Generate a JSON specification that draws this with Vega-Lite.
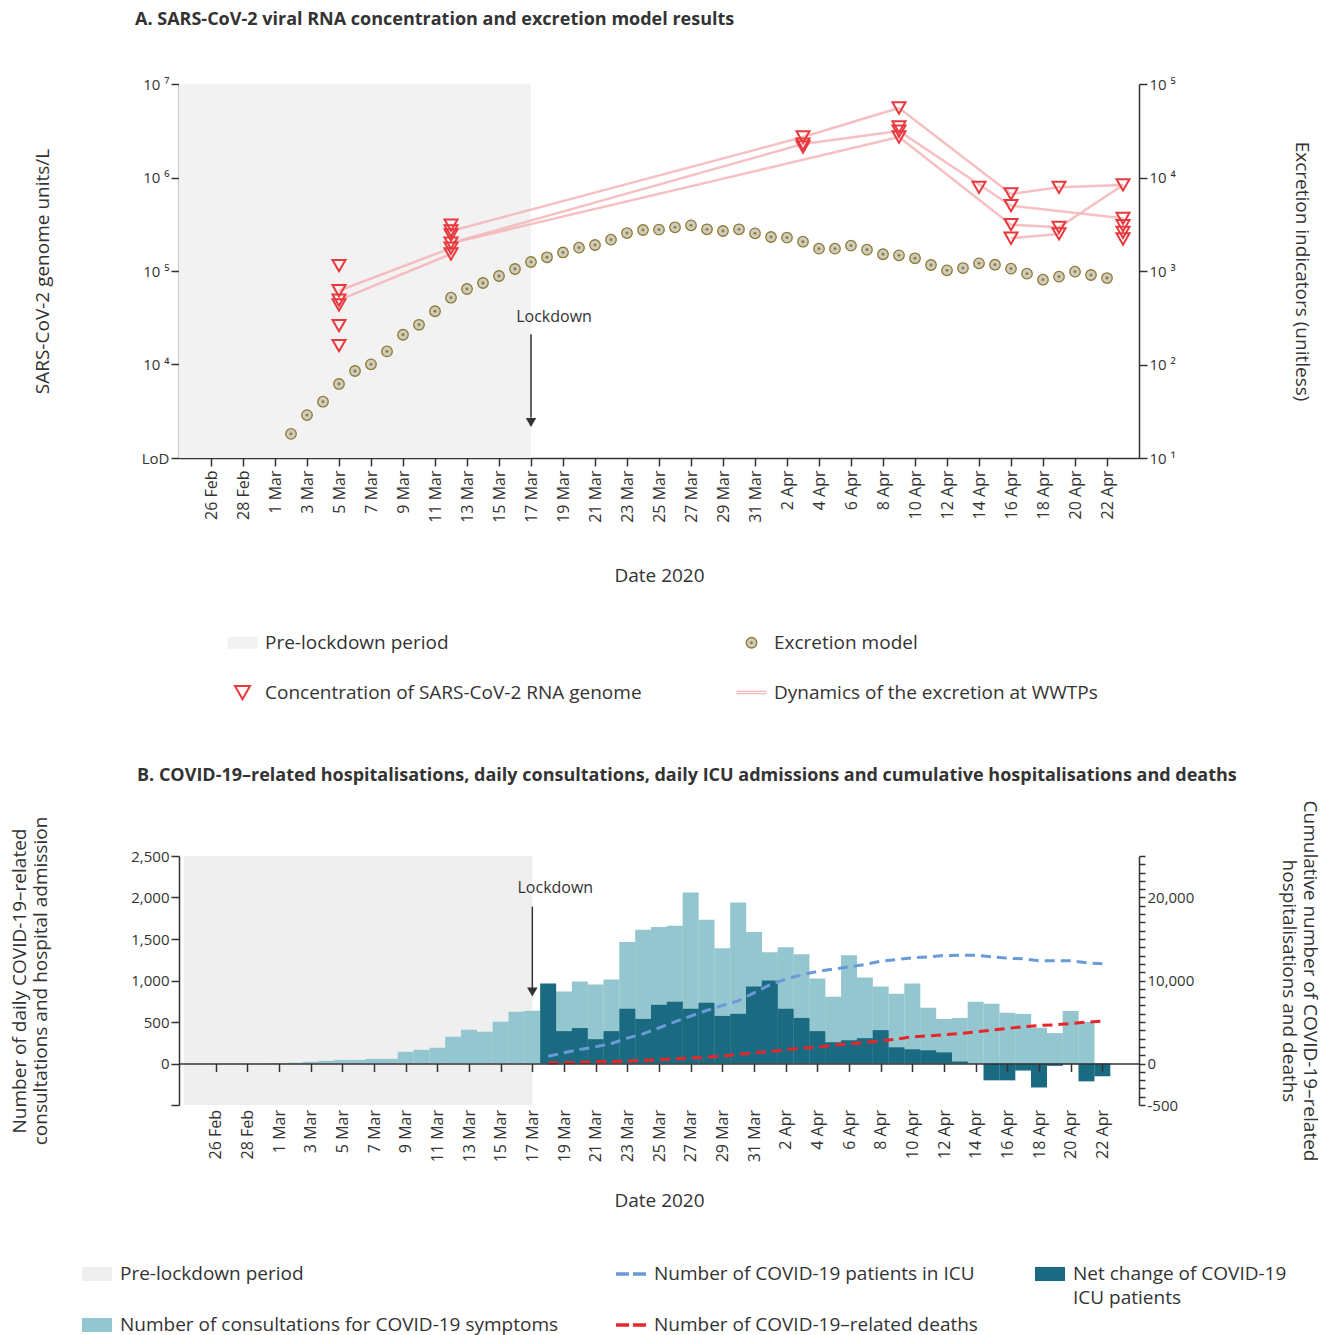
{
  "$schema": "https://vega.github.io/schema/vega-lite/v6.json",
  "background": "white",
  "padding": {"left": 10, "right": 6, "top": 11, "bottom": 2},
  "config": {
    "font": "Open Sans",
    "view": {"stroke": null},
    "axis": {"domainColor": "#333", "tickColor": "#333", "domainWidth": 1.5, "tickWidth": 1.5, "labelColor": "#333", "titleColor": "#333", "labelFontSize": 15, "titleFontSize": 19, "titleFontWeight": "normal", "grid": false, "tickSize": 8, "labelFont": "Open Sans", "titleFont": "Open Sans"},
    "legend": {"labelFont": "Open Sans", "labelColor": "#333"}
  },
  "spacing": 63,
  "resolve": {"scale": {"color": "independent"}, "legend": {"color": "independent"}},
  "datasets": {
    "excr": [
      {"date": "2020-03-02", "excretion": 18.1}, {"date": "2020-03-03", "excretion": 28.8}, {"date": "2020-03-04", "excretion": 40.0},
      {"date": "2020-03-05", "excretion": 61.9}, {"date": "2020-03-06", "excretion": 85.2}, {"date": "2020-03-07", "excretion": 100.5},
      {"date": "2020-03-08", "excretion": 138}, {"date": "2020-03-09", "excretion": 208}, {"date": "2020-03-10", "excretion": 266},
      {"date": "2020-03-11", "excretion": 371}, {"date": "2020-03-12", "excretion": 518}, {"date": "2020-03-13", "excretion": 642},
      {"date": "2020-03-14", "excretion": 744}, {"date": "2020-03-15", "excretion": 884}, {"date": "2020-03-16", "excretion": 1050},
      {"date": "2020-03-17", "excretion": 1248}, {"date": "2020-03-18", "excretion": 1402}, {"date": "2020-03-19", "excretion": 1578},
      {"date": "2020-03-20", "excretion": 1775}, {"date": "2020-03-21", "excretion": 1897}, {"date": "2020-03-22", "excretion": 2163},
      {"date": "2020-03-23", "excretion": 2547}, {"date": "2020-03-24", "excretion": 2746}, {"date": "2020-03-25", "excretion": 2767},
      {"date": "2020-03-26", "excretion": 2934}, {"date": "2020-03-27", "excretion": 3080}, {"date": "2020-03-28", "excretion": 2793},
      {"date": "2020-03-29", "excretion": 2679}, {"date": "2020-03-30", "excretion": 2793}, {"date": "2020-03-31", "excretion": 2529},
      {"date": "2020-04-01", "excretion": 2311}, {"date": "2020-04-02", "excretion": 2271}, {"date": "2020-04-03", "excretion": 2057},
      {"date": "2020-04-04", "excretion": 1734}, {"date": "2020-04-05", "excretion": 1734}, {"date": "2020-04-06", "excretion": 1866},
      {"date": "2020-04-07", "excretion": 1690}, {"date": "2020-04-08", "excretion": 1510}, {"date": "2020-04-09", "excretion": 1472},
      {"date": "2020-04-10", "excretion": 1368}, {"date": "2020-04-11", "excretion": 1159}, {"date": "2020-04-12", "excretion": 1016},
      {"date": "2020-04-13", "excretion": 1076}, {"date": "2020-04-14", "excretion": 1208}, {"date": "2020-04-15", "excretion": 1167},
      {"date": "2020-04-16", "excretion": 1059}, {"date": "2020-04-17", "excretion": 936}, {"date": "2020-04-18", "excretion": 807},
      {"date": "2020-04-19", "excretion": 869}, {"date": "2020-04-20", "excretion": 984}, {"date": "2020-04-21", "excretion": 906},
      {"date": "2020-04-22", "excretion": 841}
    ],
    "conc": [
      {"date": "2020-03-05", "value": 114000}, {"date": "2020-03-05", "value": 61500}, {"date": "2020-03-05", "value": 48900},
      {"date": "2020-03-05", "value": 43300}, {"date": "2020-03-05", "value": 26000}, {"date": "2020-03-05", "value": 15900},
      {"date": "2020-03-12", "value": 310000}, {"date": "2020-03-12", "value": 268000}, {"date": "2020-03-12", "value": 243000},
      {"date": "2020-03-12", "value": 199000}, {"date": "2020-03-12", "value": 176000}, {"date": "2020-03-12", "value": 152000},
      {"date": "2020-04-03", "value": 2710000}, {"date": "2020-04-03", "value": 2280000}, {"date": "2020-04-03", "value": 2120000},
      {"date": "2020-04-09", "value": 5540000}, {"date": "2020-04-09", "value": 3470000}, {"date": "2020-04-09", "value": 3140000},
      {"date": "2020-04-09", "value": 2710000},
      {"date": "2020-04-14", "value": 785000},
      {"date": "2020-04-16", "value": 667000}, {"date": "2020-04-16", "value": 499000}, {"date": "2020-04-16", "value": 313000},
      {"date": "2020-04-16", "value": 224000},
      {"date": "2020-04-19", "value": 785000}, {"date": "2020-04-19", "value": 293000}, {"date": "2020-04-19", "value": 249000},
      {"date": "2020-04-23", "value": 832000}, {"date": "2020-04-23", "value": 366000}, {"date": "2020-04-23", "value": 305000},
      {"date": "2020-04-23", "value": 259000}, {"date": "2020-04-23", "value": 220000}
    ],
    "dyn": [
      {"seg": "s1", "date": "2020-03-05", "value": 61500}, {"seg": "s1", "date": "2020-03-12", "value": 176000},
      {"seg": "s2", "date": "2020-03-05", "value": 48900}, {"seg": "s2", "date": "2020-03-12", "value": 152000},
      {"seg": "s3", "date": "2020-03-12", "value": 268000}, {"seg": "s3", "date": "2020-04-03", "value": 2710000},
      {"seg": "s4", "date": "2020-03-12", "value": 199000}, {"seg": "s4", "date": "2020-04-03", "value": 2280000},
      {"seg": "s5", "date": "2020-03-12", "value": 199000}, {"seg": "s5", "date": "2020-04-09", "value": 2710000},
      {"seg": "s6", "date": "2020-04-03", "value": 2710000}, {"seg": "s6", "date": "2020-04-09", "value": 5540000},
      {"seg": "s7", "date": "2020-04-03", "value": 2280000}, {"seg": "s7", "date": "2020-04-09", "value": 3140000},
      {"seg": "s8", "date": "2020-04-09", "value": 5540000}, {"seg": "s8", "date": "2020-04-16", "value": 667000},
      {"seg": "s9", "date": "2020-04-09", "value": 2710000}, {"seg": "s9", "date": "2020-04-16", "value": 313000},
      {"seg": "s10", "date": "2020-04-09", "value": 3140000}, {"seg": "s10", "date": "2020-04-16", "value": 499000},
      {"seg": "s11", "date": "2020-04-16", "value": 667000}, {"seg": "s11", "date": "2020-04-19", "value": 785000},
      {"seg": "s12", "date": "2020-04-16", "value": 499000}, {"seg": "s12", "date": "2020-04-23", "value": 366000},
      {"seg": "s13", "date": "2020-04-16", "value": 313000}, {"seg": "s13", "date": "2020-04-19", "value": 293000},
      {"seg": "s14", "date": "2020-04-16", "value": 224000}, {"seg": "s14", "date": "2020-04-19", "value": 249000},
      {"seg": "s15", "date": "2020-04-19", "value": 785000}, {"seg": "s15", "date": "2020-04-23", "value": 832000},
      {"seg": "s16", "date": "2020-04-19", "value": 293000}, {"seg": "s16", "date": "2020-04-23", "value": 832000}
    ],
    "cons": [
      {"date": "2020-02-26", "n": 2}, {"date": "2020-02-27", "n": 2}, {"date": "2020-02-28", "n": 3}, {"date": "2020-02-29", "n": 3},
      {"date": "2020-03-01", "n": 5}, {"date": "2020-03-02", "n": 10}, {"date": "2020-03-03", "n": 20}, {"date": "2020-03-04", "n": 32},
      {"date": "2020-03-05", "n": 44}, {"date": "2020-03-06", "n": 44}, {"date": "2020-03-07", "n": 56}, {"date": "2020-03-08", "n": 56},
      {"date": "2020-03-09", "n": 141}, {"date": "2020-03-10", "n": 165}, {"date": "2020-03-11", "n": 190}, {"date": "2020-03-12", "n": 323},
      {"date": "2020-03-13", "n": 407}, {"date": "2020-03-14", "n": 383}, {"date": "2020-03-15", "n": 504}, {"date": "2020-03-16", "n": 625},
      {"date": "2020-03-17", "n": 637}, {"date": "2020-03-18", "n": 780}, {"date": "2020-03-19", "n": 866}, {"date": "2020-03-20", "n": 988},
      {"date": "2020-03-21", "n": 951}, {"date": "2020-03-22", "n": 1012}, {"date": "2020-03-23", "n": 1463}, {"date": "2020-03-24", "n": 1610},
      {"date": "2020-03-25", "n": 1646}, {"date": "2020-03-26", "n": 1659}, {"date": "2020-03-27", "n": 2061}, {"date": "2020-03-28", "n": 1732},
      {"date": "2020-03-29", "n": 1390}, {"date": "2020-03-30", "n": 1939}, {"date": "2020-03-31", "n": 1585}, {"date": "2020-04-01", "n": 1341},
      {"date": "2020-04-02", "n": 1402}, {"date": "2020-04-03", "n": 1317}, {"date": "2020-04-04", "n": 1024}, {"date": "2020-04-05", "n": 805},
      {"date": "2020-04-06", "n": 1305}, {"date": "2020-04-07", "n": 1037}, {"date": "2020-04-08", "n": 927}, {"date": "2020-04-09", "n": 841},
      {"date": "2020-04-10", "n": 963}, {"date": "2020-04-11", "n": 671}, {"date": "2020-04-12", "n": 537}, {"date": "2020-04-13", "n": 549},
      {"date": "2020-04-14", "n": 744}, {"date": "2020-04-15", "n": 720}, {"date": "2020-04-16", "n": 610}, {"date": "2020-04-17", "n": 598},
      {"date": "2020-04-18", "n": 431}, {"date": "2020-04-19", "n": 366}, {"date": "2020-04-20", "n": 634}, {"date": "2020-04-21", "n": 500}
    ],
    "icuchg": [
      {"date": "2020-03-18", "n": 963}, {"date": "2020-03-19", "n": 390}, {"date": "2020-03-20", "n": 427}, {"date": "2020-03-21", "n": 293},
      {"date": "2020-03-22", "n": 390}, {"date": "2020-03-23", "n": 659}, {"date": "2020-03-24", "n": 537}, {"date": "2020-03-25", "n": 707},
      {"date": "2020-03-26", "n": 744}, {"date": "2020-03-27", "n": 659}, {"date": "2020-03-28", "n": 732}, {"date": "2020-03-29", "n": 573},
      {"date": "2020-03-30", "n": 598}, {"date": "2020-03-31", "n": 927}, {"date": "2020-04-01", "n": 1000}, {"date": "2020-04-02", "n": 659},
      {"date": "2020-04-03", "n": 549}, {"date": "2020-04-04", "n": 390}, {"date": "2020-04-05", "n": 256}, {"date": "2020-04-06", "n": 280},
      {"date": "2020-04-07", "n": 305}, {"date": "2020-04-08", "n": 402}, {"date": "2020-04-09", "n": 195}, {"date": "2020-04-10", "n": 171},
      {"date": "2020-04-11", "n": 159}, {"date": "2020-04-12", "n": 134}, {"date": "2020-04-13", "n": 24}, {"date": "2020-04-14", "n": -3},
      {"date": "2020-04-15", "n": -203}, {"date": "2020-04-16", "n": -203}, {"date": "2020-04-17", "n": -85}, {"date": "2020-04-18", "n": -289},
      {"date": "2020-04-19", "n": -28}, {"date": "2020-04-20", "n": -8}, {"date": "2020-04-21", "n": -215}, {"date": "2020-04-22", "n": -154}
    ],
    "icu": [
      {"date": "2020-03-18", "v": 880}, {"date": "2020-03-19", "v": 1285}, {"date": "2020-03-20", "v": 1687}, {"date": "2020-03-21", "v": 2008},
      {"date": "2020-03-22", "v": 2410}, {"date": "2020-03-23", "v": 3052}, {"date": "2020-03-24", "v": 3574}, {"date": "2020-03-25", "v": 4297},
      {"date": "2020-03-26", "v": 5020}, {"date": "2020-03-27", "v": 5703}, {"date": "2020-03-28", "v": 6386}, {"date": "2020-03-29", "v": 6988},
      {"date": "2020-03-30", "v": 7550}, {"date": "2020-03-31", "v": 8514}, {"date": "2020-04-01", "v": 9478}, {"date": "2020-04-02", "v": 10160},
      {"date": "2020-04-03", "v": 10683}, {"date": "2020-04-04", "v": 11084}, {"date": "2020-04-05", "v": 11365}, {"date": "2020-04-06", "v": 11647},
      {"date": "2020-04-07", "v": 11928}, {"date": "2020-04-08", "v": 12329}, {"date": "2020-04-09", "v": 12530}, {"date": "2020-04-10", "v": 12731},
      {"date": "2020-04-11", "v": 12851}, {"date": "2020-04-12", "v": 13012}, {"date": "2020-04-13", "v": 13052}, {"date": "2020-04-14", "v": 13052},
      {"date": "2020-04-15", "v": 12851}, {"date": "2020-04-16", "v": 12691}, {"date": "2020-04-17", "v": 12610}, {"date": "2020-04-18", "v": 12369},
      {"date": "2020-04-19", "v": 12369}, {"date": "2020-04-20", "v": 12369}, {"date": "2020-04-21", "v": 12128}, {"date": "2020-04-22", "v": 12008}
    ],
    "deaths": [
      {"date": "2020-03-18", "v": 50}, {"date": "2020-03-19", "v": 100}, {"date": "2020-03-20", "v": 150}, {"date": "2020-03-21", "v": 200},
      {"date": "2020-03-22", "v": 250}, {"date": "2020-03-23", "v": 300}, {"date": "2020-03-24", "v": 400}, {"date": "2020-03-25", "v": 480},
      {"date": "2020-03-26", "v": 560}, {"date": "2020-03-27", "v": 680}, {"date": "2020-03-28", "v": 760}, {"date": "2020-03-29", "v": 920},
      {"date": "2020-03-30", "v": 1080}, {"date": "2020-03-31", "v": 1280}, {"date": "2020-04-01", "v": 1450}, {"date": "2020-04-02", "v": 1650},
      {"date": "2020-04-03", "v": 1850}, {"date": "2020-04-04", "v": 2000}, {"date": "2020-04-05", "v": 2200}, {"date": "2020-04-06", "v": 2350},
      {"date": "2020-04-07", "v": 2530}, {"date": "2020-04-08", "v": 2730}, {"date": "2020-04-09", "v": 2930}, {"date": "2020-04-10", "v": 3210},
      {"date": "2020-04-11", "v": 3330}, {"date": "2020-04-12", "v": 3450}, {"date": "2020-04-13", "v": 3610}, {"date": "2020-04-14", "v": 3810},
      {"date": "2020-04-15", "v": 4020}, {"date": "2020-04-16", "v": 4220}, {"date": "2020-04-17", "v": 4420}, {"date": "2020-04-18", "v": 4580},
      {"date": "2020-04-19", "v": 4660}, {"date": "2020-04-20", "v": 4820}, {"date": "2020-04-21", "v": 4980}, {"date": "2020-04-22", "v": 5100}
    ]
  },
  "vconcat": [
    {
      "width": 960,
      "height": 374,
      "title": {"text": "A. SARS-CoV-2 viral RNA concentration and excretion model results", "anchor": "start", "frame": "group", "dx": -44, "offset": 48, "fontSize": 18, "fontWeight": "bold", "color": "#333", "font": "Open Sans"},
      "resolve": {"scale": {"y": "independent"}},
      "encoding": {
        "x": {
          "field": "date", "type": "temporal",
          "scale": {"type": "utc", "domain": [1582502400000, 1587686400000]},
          "axis": {
            "title": "Date 2020", "titlePadding": 44, "labelAngle": -90, "labelPadding": 4, "labelOverlap": false, "labelFlush": false, "labelFontSize": 16, "tickCount": 100,
            "labelExpr": "utcFormat(datum.value, '%-d %b')",
            "values": [1582675200000, 1582848000000, 1583020800000, 1583193600000, 1583366400000, 1583539200000, 1583712000000, 1583884800000, 1584057600000, 1584230400000, 1584403200000, 1584576000000, 1584748800000, 1584921600000, 1585094400000, 1585267200000, 1585440000000, 1585612800000, 1585785600000, 1585958400000, 1586131200000, 1586304000000, 1586476800000, 1586649600000, 1586822400000, 1586995200000, 1587168000000, 1587340800000, 1587513600000]
          }
        }
      },
      "layer": [
        {
          "layer": [
            {
              "data": {"values": [{"date": "2020-02-24", "end": "2020-03-17", "series": "Pre-lockdown period"}]},
              "mark": {"type": "rect"},
              "encoding": {
                "x2": {"field": "end"},
                "color": {
                  "field": "series", "type": "nominal",
                  "scale": {"domain": ["Pre-lockdown period", "Concentration of SARS-CoV-2 RNA genome", "Excretion model", "Dynamics of the excretion at WWTPs"], "range": ["#f2f2f2", "transparent", "#cfcbbd", "transparent"]},
                  "legend": {
                    "orient": "none", "legendX": 54, "legendY": 549, "columns": 2, "columnPadding": 91, "rowPadding": 29,
                    "title": null, "labelFontSize": 19, "labelLimit": 700, "labelOffset": 13, "symbolSize": 900, "gridAlign": "each",
                    "encode": {
                      "symbols": {
                        "update": {
                          "size": {"value": 900},
                          "shape": {"signal": "datum.value === 'Pre-lockdown period' ? 'M-1,-0.4H1V0.4H-1Z' : datum.value === 'Excretion model' ? 'M-0.35,0A0.35,0.35 0 1,0 0.35,0A0.35,0.35 0 1,0 -0.35,0ZM-0.05,0A0.05,0.05 0 1,0 0.05,0A0.05,0.05 0 1,0 -0.05,0Z' : datum.value === 'Concentration of SARS-CoV-2 RNA genome' ? 'M-0.5,-0.43L0.5,-0.43L0,0.45Z' : 'M-1,-0.08H1M-1,0.08H1'"},
                          "stroke": {"signal": "datum.value === 'Pre-lockdown period' ? 'transparent' : datum.value === 'Excretion model' ? '#8c7a35' : datum.value === 'Concentration of SARS-CoV-2 RNA genome' ? '#e8393f' : '#f4b5b7'"},
                          "strokeWidth": {"signal": "datum.value === 'Excretion model' ? 1.3 : datum.value === 'Dynamics of the excretion at WWTPs' ? 1.3 : 2"},
                          "opacity": {"value": 1}
                        }
                      }
                    }
                  }
                }
              }
            },
            {
              "data": {"name": "dyn"},
              "mark": {"type": "line", "stroke": "#f4b5b7", "strokeWidth": 2.5, "opacity": 0.85},
              "encoding": {
                "y": {
                  "field": "value", "type": "quantitative",
                  "scale": {"type": "log", "domain": [1000, 10000000], "nice": false},
                  "axis": {
                    "title": "SARS-CoV-2 genome units/L", "titlePadding": 89, "values": [1000, 10000, 100000, 1000000, 10000000], "tickCount": 100,
                    "labelExpr": "datum.value < 2000 ? 'LoD' : datum.value < 20000 ? '10 ⁴' : datum.value < 200000 ? '10 ⁵' : datum.value < 2000000 ? '10 ⁶' : '10 ⁷'"
                  }
                },
                "detail": {"field": "seg"}
              }
            },
            {
              "data": {"name": "conc"},
              "mark": {"type": "point", "shape": "triangle-down", "filled": false, "size": 170, "strokeWidth": 2, "color": "#e8393f", "opacity": 1},
              "encoding": {
                "y": {"field": "value", "type": "quantitative"}
              }
            },
            {
              "data": {"values": [{"date": "2020-03-17", "value": 21000, "bottom": 2700}]},
              "mark": {"type": "rule", "color": "#333", "strokeWidth": 1.5},
              "encoding": {
                "y": {"field": "value", "type": "quantitative"},
                "y2": {"field": "bottom"}
              }
            },
            {
              "data": {"values": [{"date": "2020-03-17", "value": 2400}]},
              "mark": {"type": "point", "shape": "triangle-down", "filled": true, "size": 110, "color": "#333", "opacity": 1},
              "encoding": {
                "y": {"field": "value", "type": "quantitative"}
              }
            },
            {
              "data": {"values": [{"date": "2020-03-17", "value": 32000, "label": "Lockdown"}]},
              "mark": {"type": "text", "dx": 23, "fontSize": 16, "color": "#333", "font": "Open Sans"},
              "encoding": {
                "y": {"field": "value", "type": "quantitative"},
                "text": {"field": "label"}
              }
            }
          ]
        },
        {
          "layer": [
            {
              "data": {"name": "excr"},
              "mark": {"type": "point", "shape": "circle", "filled": true, "size": 110, "fill": "#cfcbbd", "stroke": "#8c7a35", "strokeWidth": 1.3, "opacity": 1},
              "encoding": {
                "y": {
                  "field": "excretion", "type": "quantitative",
                  "scale": {"type": "log", "domain": [10, 100000], "nice": false},
                  "axis": {
                    "orient": "right", "title": "Excretion indicators (unitless)", "titlePadding": 116, "values": [10, 100, 1000, 10000, 100000], "tickCount": 100,
                    "labelExpr": "datum.value < 20 ? '10 ¹' : datum.value < 200 ? '10 ²' : datum.value < 2000 ? '10 ³' : datum.value < 20000 ? '10 ⁴' : '10 ⁵'"
                  }
                }
              }
            },
            {
              "data": {"name": "excr"},
              "mark": {"type": "point", "shape": "circle", "filled": true, "size": 8, "color": "#8c7a35", "opacity": 1},
              "encoding": {
                "y": {"field": "excretion", "type": "quantitative"}
              }
            }
          ]
        }
      ]
    },
    {
      "width": 960,
      "height": 249,
      "title": {"text": "B. COVID-19–related hospitalisations, daily consultations, daily ICU admissions and cumulative hospitalisations and deaths", "anchor": "start", "frame": "group", "dx": -42, "offset": 15, "fontSize": 18, "fontWeight": "bold", "color": "#333", "font": "Open Sans"},
      "resolve": {"scale": {"y": "independent"}},
      "encoding": {
        "x": {
          "field": "date", "type": "temporal",
          "scale": {"type": "utc", "domain": [1582502400000, 1587686400000]},
          "axis": {
            "title": "Date 2020", "titlePadding": 30, "labelAngle": -90, "labelPadding": 38, "offset": -41.5, "zindex": 1, "labelOverlap": false, "labelFlush": false, "labelFontSize": 16, "tickCount": 100,
            "labelExpr": "utcFormat(datum.value, '%-d %b')",
            "values": [1582675200000, 1582848000000, 1583020800000, 1583193600000, 1583366400000, 1583539200000, 1583712000000, 1583884800000, 1584057600000, 1584230400000, 1584403200000, 1584576000000, 1584748800000, 1584921600000, 1585094400000, 1585267200000, 1585440000000, 1585612800000, 1585785600000, 1585958400000, 1586131200000, 1586304000000, 1586476800000, 1586649600000, 1586822400000, 1586995200000, 1587168000000, 1587340800000, 1587513600000]
          }
        }
      },
      "layer": [
        {
          "layer": [
            {
              "data": {"values": [{"date": "2020-02-24", "end": "2020-03-17", "series": "Pre-lockdown period"}]},
              "mark": {"type": "rect"},
              "encoding": {
                "x2": {"field": "end"},
                "color": {
                  "field": "series", "type": "nominal",
                  "scale": {"domain": ["Pre-lockdown period", "Number of consultations for COVID-19 symptoms", "Number of COVID-19 patients in ICU", "Number of COVID-19–related deaths", "Net change of COVID-19 ICU patients"], "range": ["#efefef", "#93c6ce", "transparent", "transparent", "#1a6b82"]},
                  "legend": {
                    "orient": "none", "legendX": -99, "legendY": 401, "columns": 3, "columnPadding": 50, "rowPadding": -21,
                    "title": null, "labelFontSize": 19, "labelLimit": 700, "labelOffset": 6, "symbolSize": 900, "gridAlign": "each",
                    "labelExpr": "datum.label === 'Net change of COVID-19 ICU patients' ? ['Net change of COVID-19', 'ICU patients'] : (datum.label === 'Pre-lockdown period' || datum.label === 'Number of COVID-19 patients in ICU') ? [datum.label, ''] : datum.label",
                    "encode": {
                      "labels": {"update": {"lineHeight": {"value": 24}}},
                      "symbols": {
                        "update": {
                          "size": {"value": 900},
                          "shape": {"signal": "(datum.value === 'Number of COVID-19 patients in ICU' || datum.value === 'Number of COVID-19–related deaths') ? 'M-1,0H-0.13M0.13,0H1' : 'M-1,-0.47H1V0.47H-1Z'"},
                          "stroke": {"signal": "datum.value === 'Number of COVID-19 patients in ICU' ? '#6a9bd8' : datum.value === 'Number of COVID-19–related deaths' ? '#e8262a' : 'transparent'"},
                          "strokeWidth": {"value": 3.5},
                          "opacity": {"value": 1}
                        }
                      }
                    }
                  }
                }
              }
            },
            {
              "data": {"name": "cons"},
              "mark": {"type": "bar", "width": 16, "color": "#93c6ce"},
              "encoding": {
                "y": {
                  "field": "n", "type": "quantitative",
                  "scale": {"domain": [-500, 2500], "nice": false},
                  "axis": {
                    "title": ["Number of daily COVID-19–related", "consultations and hospital admission"], "titlePadding": 80, "tickCount": 100,
                    "values": [-500, 0, 500, 1000, 1500, 2000, 2500],
                    "labelExpr": "datum.value < 0 ? '' : format(datum.value, ',')"
                  }
                }
              }
            },
            {
              "data": {"name": "icuchg"},
              "mark": {"type": "bar", "width": 16, "color": "#1a6b82"},
              "encoding": {
                "y": {"field": "n", "type": "quantitative"}
              }
            },
            {
              "data": {"values": [{"date": "2020-03-17", "n": 1890, "bottom": 900}]},
              "mark": {"type": "rule", "color": "#333", "strokeWidth": 1.5},
              "encoding": {
                "y": {"field": "n", "type": "quantitative"},
                "y2": {"field": "bottom"}
              }
            },
            {
              "data": {"values": [{"date": "2020-03-17", "n": 862}]},
              "mark": {"type": "point", "shape": "triangle-down", "filled": true, "size": 110, "color": "#333", "opacity": 1},
              "encoding": {
                "y": {"field": "n", "type": "quantitative"}
              }
            },
            {
              "data": {"values": [{"date": "2020-03-17", "n": 2110, "label": "Lockdown"}]},
              "mark": {"type": "text", "dx": 23, "fontSize": 16, "color": "#333", "font": "Open Sans"},
              "encoding": {
                "y": {"field": "n", "type": "quantitative"},
                "text": {"field": "label"}
              }
            }
          ]
        },
        {
          "layer": [
            {
              "data": {"name": "icu"},
              "mark": {"type": "line", "color": "#6a9bd8", "strokeWidth": 3, "strokeDash": [10, 6]},
              "encoding": {
                "y": {
                  "field": "v", "type": "quantitative",
                  "scale": {"domain": [-5000, 25000], "nice": false},
                  "axis": {
                    "orient": "right", "title": ["Cumulative number of COVID-19–related", "hospitalisations and deaths"], "titlePadding": 85, "tickSize": 6, "labelOverlap": false, "tickCount": 100,
                    "values": [-5000, -4000, -3000, -2000, -1000, 0, 1000, 2000, 3000, 4000, 5000, 6000, 7000, 8000, 9000, 10000, 11000, 12000, 13000, 14000, 15000, 16000, 17000, 18000, 19000, 20000, 21000, 22000, 23000, 24000, 25000],
                    "labelExpr": "datum.value === -5000 ? '-500' : (datum.value % 10000 === 0 ? format(datum.value, ',') : '')"
                  }
                }
              }
            },
            {
              "data": {"name": "deaths"},
              "mark": {"type": "line", "color": "#e8262a", "strokeWidth": 3, "strokeDash": [10, 6]},
              "encoding": {
                "y": {"field": "v", "type": "quantitative"}
              }
            }
          ]
        }
      ]
    }
  ]
}
